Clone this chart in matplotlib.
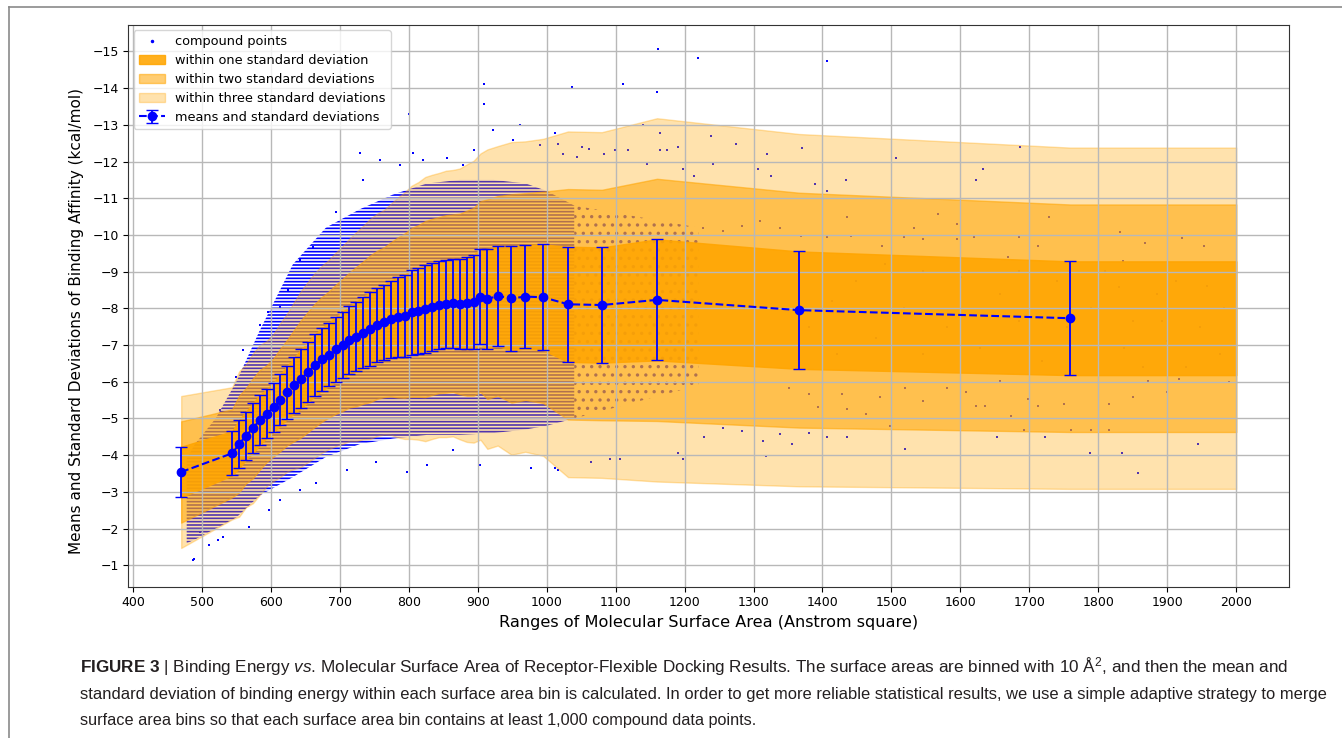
import numpy as np
import matplotlib
matplotlib.use("Agg")
import matplotlib.pyplot as plt
from matplotlib.patches import Patch
from matplotlib.lines import Line2D

plt.rcParams['font.family'] = ['DejaVu Sans']
plt.rcParams['mathtext.fontset'] = 'custom'
plt.rcParams['mathtext.rm'] = 'Liberation Sans'
plt.rcParams['mathtext.it'] = 'Liberation Sans:italic'
plt.rcParams['mathtext.bf'] = 'Liberation Sans:bold'
plt.rcParams['hatch.linewidth'] = 1.2

# 每个表面积分箱的中心、均值与标准差
bin_x = [470, 544, 554, 564, 574, 584, 594, 604, 614, 624, 634, 644, 654, 664,
         674, 684, 694, 704, 714, 724, 734, 744, 754, 764, 774, 784, 794, 804,
         814, 824, 834, 844, 854, 864, 874, 884, 894, 904, 914, 929, 949, 969,
         995, 1031, 1080, 1160, 1366, 1759]
bin_mean = [-3.54, -4.05, -4.30, -4.53, -4.73, -4.96, -5.13, -5.30, -5.51, -5.71,
            -5.90, -6.08, -6.27, -6.45, -6.61, -6.74, -6.88, -7.00, -7.14, -7.23,
            -7.34, -7.44, -7.55, -7.62, -7.70, -7.75, -7.80, -7.89, -7.93, -7.98,
            -8.04, -8.09, -8.12, -8.14, -8.12, -8.14, -8.18, -8.32, -8.25, -8.34,
            -8.27, -8.32, -8.30, -8.11, -8.09, -8.23, -7.95, -7.73]
bin_std = [0.69, 0.60, 0.66, 0.65, 0.68, 0.68, 0.66, 0.67, 0.70, 0.72,
           0.76, 0.80, 0.82, 0.84, 0.85, 0.86, 0.88, 0.90, 0.92, 0.95,
           0.97, 1.00, 1.01, 1.02, 1.05, 1.09, 1.12, 1.15, 1.17, 1.20,
           1.20, 1.20, 1.21, 1.21, 1.23, 1.26, 1.28, 1.30, 1.36, 1.36,
           1.42, 1.41, 1.44, 1.57, 1.57, 1.65, 1.60, 1.55]
band_end = 2000

# 密集点云的包络（上/下边界）
cloud_x = [478, 490, 520, 550, 584, 632, 680, 729, 777, 826, 874, 923, 970, 1000, 1040]
cloud_top = [-3.9, -4.3, -5.0, -6.0, -7.4, -9.2, -10.2, -10.7, -11.1, -11.4,
             -11.5, -11.5, -11.4, -11.2, -10.8]
cloud_bot = [-1.6, -1.7, -2.0, -2.3, -2.9, -3.4, -3.95, -4.3, -4.45, -4.55,
             -4.55, -4.6, -4.7, -4.8, -5.0]
# 过渡区（点较稀疏）
sparse_x = [1040, 1100, 1160, 1220]
sparse_top = [-10.8, -10.6, -10.4, -10.2]
sparse_bot = [-5.0, -5.3, -5.6, -5.9]

# 单独可见的离群点
out_x = [1161, 1219, 1406, 909, 1110, 1037, 1160, 909, 801, 922, 951, 961, 990, 878, 894,
         729, 734, 695, 661, 642, 625, 596, 584, 613, 560, 550, 526, 787, 821, 855, 806, 758,
         797, 826, 903, 978, 1012, 864, 753, 710, 666, 642, 613, 598, 569, 530, 511, 497,
         487, 489, 523,
         1012, 1016, 1051, 1061, 1023, 1044, 1083, 1099, 1118, 1139, 1164, 1165, 1174, 1190,
         1146, 1197, 1213, 1238, 1241, 1274, 1307, 1319, 1326, 1371, 1389, 1407, 1434, 1507,
         1622, 1633, 1687, 1728, 1832, 1868, 1922, 1953, 1836, 1669, 1712, 1685, 1619, 1595,
         1546, 1518, 1487, 1442, 1407, 1369, 1338, 1310, 1283, 1255, 1227, 1567, 1532, 1595,
         1435, 1872, 1917, 1990, 1851, 1899, 1816, 1750, 1712, 1698, 1636, 1674, 1657, 1789,
         1761, 1816, 1692, 1653, 1723, 1788, 1834, 1858, 1945, 1519, 1498, 1435, 1407, 1380,
         1356, 1318, 1338, 1314, 1283, 1255, 1228, 1198, 1191, 1106, 1064, 1092, 1016, 1394,
         1435, 1463, 1484, 1519, 1546, 1581, 1608, 1622, 1428, 1380, 1352, 1830, 1885, 1913,
         1958, 1851, 1899, 1976, 1837, 1865, 1927, 1657, 1685, 1601, 1546, 1491, 1449, 1414,
         1518, 1581, 1629, 1477, 1421, 1380, 1546, 1719, 1789, 1754, 1740, 1809, 1685, 1892,
         1947, 1982]
out_y = [-15.07, -14.82, -14.73, -14.10, -14.10, -14.03, -13.90, -13.56, -13.30, -12.86,
         -12.58, -12.99, -12.45, -11.90, -12.31,
         -12.22, -11.50, -10.63, -9.68, -9.32, -8.50, -7.91, -7.55, -8.04, -6.86, -6.14,
         -5.23, -11.90, -12.04, -12.09, -12.22, -12.04,
         -3.55, -3.73, -3.73, -3.64, -3.64, -4.14, -3.82, -3.59, -3.23, -3.05, -2.78, -2.50,
         -2.05, -1.78, -1.55, -1.91, -1.14, -1.18, -1.69,
         -12.79, -12.49, -12.40, -12.34, -12.20, -12.11, -12.20, -12.31, -12.31, -13.00,
         -12.79, -12.31, -12.31, -12.40, -11.93, -11.81, -11.61, -12.70, -11.93, -12.49,
         -11.79, -12.20, -11.61, -12.38, -11.38, -11.20, -11.49, -12.09, -11.49, -11.79,
         -12.40, -10.49, -10.09, -9.79, -9.91, -9.69, -9.29, -9.39, -9.69, -9.93, -9.93,
         -9.88, -9.88, -9.93, -9.70, -9.98, -9.93, -9.98, -10.20, -10.38, -10.25, -10.11,
         -10.20, -10.57, -10.20, -10.29, -10.48, -6.02, -6.07, -5.98, -5.57, -5.71, -5.39,
         -5.39, -5.34, -5.52, -5.34, -5.07, -6.02, -4.68, -4.68, -4.68, -4.68, -4.48, -4.48,
         -4.07, -4.07, -3.50, -4.30, -4.16, -4.80, -4.48, -4.48, -4.59, -4.30, -3.98, -4.57,
         -4.39, -4.66, -4.75, -4.48, -3.89, -4.07, -3.89, -3.80, -3.89, -3.59, -5.30, -5.25,
         -5.12, -5.57, -5.84, -5.48, -5.84, -5.71, -5.34, -5.66, -5.66, -5.84, -8.57, -8.39,
         -8.75, -8.61, -7.66, -7.11, -6.75, -6.93, -6.39, -6.39, -8.39, -7.66, -8.84, -9.02,
         -9.20, -8.75, -8.20, -8.02, -7.48, -6.93, -7.20, -6.75, -7.48, -6.75, -6.57, -8.02,
         -7.48, -8.75, -9.02, -9.02, -7.66, -7.48, -8.02]

xticks = list(range(400, 2001, 100))
yticks = list(range(-15, 0))

caption = [
    r"$\mathbf{FIGURE\ 3}$ | Binding Energy $\mathit{vs}$. Molecular Surface Area of "
    r"Receptor-Flexible Docking Results. The surface areas are binned with 10 Å$^{2}$, "
    r"and then the mean and",
    "standard deviation of binding energy within each surface area bin is calculated. "
    "In order to get more reliable statistical results, we use a simple adaptive strategy to merge",
    "surface area bins so that each surface area bin contains at least 1,000 compound data points.",
]
caption_sizes = [12.3, 11.9, 11.7]

# 带状区域：延伸到 2000
bx = np.append(bin_x, band_end)
bm = np.append(bin_mean, bin_mean[-1])
bs = np.append(bin_std, bin_std[-1])

fig = plt.figure(figsize=(13.42, 7.38), dpi=100)
ax = fig.add_axes([0.0957, 0.205, 0.8648, 0.7611])

ax.fill_between(cloud_x, cloud_top, cloud_bot, facecolor='none', edgecolor='blue',
                hatch='-----', linewidth=0, zorder=0.8)
ax.fill_between(sparse_x, sparse_top, sparse_bot, facecolor='none', edgecolor='blue',
                hatch='..', linewidth=0, zorder=0.8)
ax.scatter(out_x, out_y, s=4, c='blue', marker='s', linewidths=0, zorder=0.9)

orange = '#FFA500'
ax.fill_between(bx, bm - 3 * bs, bm + 3 * bs, color=orange, alpha=0.32)
ax.fill_between(bx, bm - 2 * bs, bm + 2 * bs, color=orange, alpha=0.55)
ax.fill_between(bx, bm - bs, bm + bs, color=orange, alpha=0.88)

eb = ax.errorbar(bin_x, bin_mean, yerr=bin_std, fmt='o--', color='blue', lw=1.5,
                 elinewidth=1.3, capsize=4, markersize=6, zorder=3)

ax.set_xlim(393.5, 2076.5)
ax.set_ylim(-0.414, -15.72)
ax.set_xticks(xticks)
ax.set_yticks(yticks)
ax.tick_params(labelsize=9)
ax.grid(True, color='#b8b8b8', lw=1.0)
for s in ax.spines.values():
    s.set_color('#333333')

ax.set_xlabel("Ranges of Molecular Surface Area (Anstrom square)", fontsize=11.6)
ax.set_ylabel("Means and Standard Deviations of Binding Affinity (kcal/mol)", fontsize=11)
ax.yaxis.set_label_coords(-0.038, 0.473)

handles = [
    Line2D([], [], marker='.', color='blue', ls='none', markersize=3),
    Patch(facecolor=orange, edgecolor=orange, alpha=0.88),
    Patch(facecolor=orange, edgecolor=orange, alpha=0.55),
    Patch(facecolor=orange, edgecolor=orange, alpha=0.32),
    eb,
]
labels = ["compound points", "within one standard deviation",
          "within two standard deviations", "within three standard deviations",
          "means and standard deviations"]
ax.legend(handles, labels, loc='upper left', fontsize=9.3, borderaxespad=0.4,
          labelspacing=0.45)

# 外框
fig.add_artist(Line2D([9 / 1342, 1], [1 - 7.3 / 738] * 2, transform=fig.transFigure,
                      color='#8a8a8a', lw=1.2))
fig.add_artist(Line2D([9 / 1342] * 2, [0, 1 - 7.3 / 738], transform=fig.transFigure,
                      color='#8a8a8a', lw=1.2))

for i, line in enumerate(caption):
    fig.text(80 / 1342, 1 - (667 + 27 * i) / 738, line, fontsize=caption_sizes[i],
             va='center', family='Liberation Sans', color='#231f20')

fig.savefig("out.png", dpi=100)
